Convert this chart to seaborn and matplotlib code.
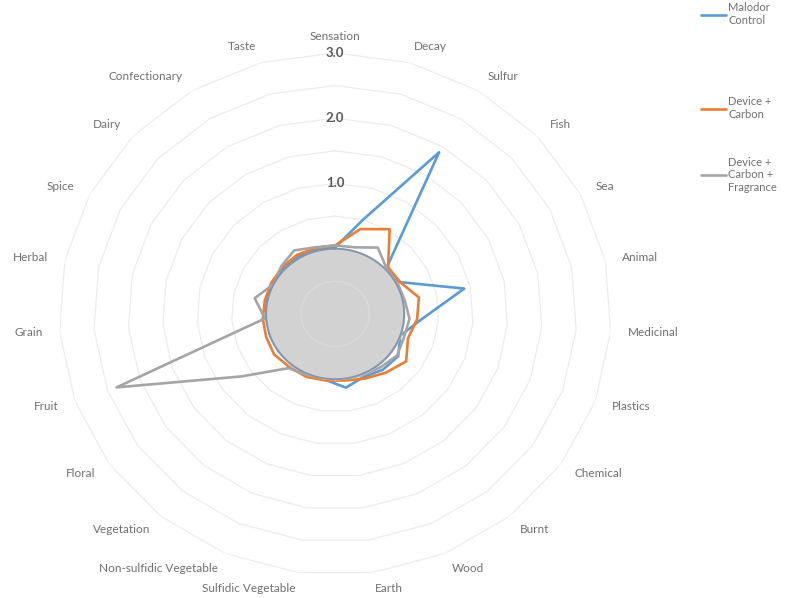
import numpy as np
import pandas as pd
import seaborn as sns
import matplotlib.pyplot as plt

# odour categories, clockwise from the top
categories = ["Sensation", "Decay", "Sulfur", "Fish", "Sea", "Animal", "Medicinal",
              "Plastics", "Chemical", "Burnt", "Wood", "Earth", "Sulfidic Vegetable",
              "Non-sulfidic Vegetable", "Vegetation", "Floral", "Fruit", "Grain",
              "Herbal", "Spice", "Dairy", "Confectionary", "Taste"]

malodor_control = [0.02, 0.50, 1.90, 0.01, 0.06, 0.91, 0.25, 0.00, 0.12, 0.10, 0.05, 0.14,
                   0.02, 0.00, 0.00, 0.00, 0.00, 0.00, 0.02, 0.02, 0.02, 0.03, 0.02]
device_carbon = [0.05, 0.35, 0.52, 0.05, 0.06, 0.24, 0.19, 0.12, 0.26, 0.16, 0.08, 0.03,
                 0.03, 0.05, 0.05, 0.08, 0.06, 0.05, 0.04, 0.04, 0.05, 0.06, 0.05]
device_carbon_fragrance = [0.05, 0.06, 0.19, 0.02, 0.02, 0.03, 0.08, 0.06, 0.10, 0.05, 0.02, 0.00,
                           0.00, 0.02, 0.07, 0.66, 2.36, 0.02, 0.19, 0.00, 0.07, 0.14, 0.06]

series_names = ["Malodor\nControl", "Device +\nCarbon", "Device +\nCarbon +\nFragrance"]
series_colors = ["#5B9BD5", "#ED7D31", "#A5A5A5"]

ring_levels = [-0.5, 0.0, 0.5, 1.0, 1.5, 2.0, 2.5, 3.0]
ring_labels = [1.0, 2.0, 3.0]

n = len(categories)
theta = [2 * np.pi * i / n for i in range(n)]
theta_closed = theta + [2 * np.pi]

rows = []
for name, vals in zip(series_names, [malodor_control, device_carbon, device_carbon_fragrance]):
    for t, v in zip(theta_closed, vals + vals[:1]):
        rows.append({"theta": t, "value": v, "series": name})
df = pd.DataFrame(rows)

sns.set_theme(style="white")
plt.rcParams['font.family'] = ['Lato', 'DejaVu Sans']

fig = plt.figure(figsize=(7.9, 5.98), dpi=100)
ax = fig.add_axes([0.0747, 0.0385, 0.699, 0.873], projection='polar')
ax.set_aspect('auto')
ax.set_theta_zero_location('N')
ax.set_theta_direction(-1)

# polygon gridlines
for lvl in ring_levels:
    ax.plot(theta_closed, [lvl] * len(theta_closed), color="#ececec", lw=0.9, zorder=1)

sns.lineplot(data=df, x="theta", y="value", hue="series", palette=series_colors,
             sort=False, estimator=None, lw=1.9, ax=ax, legend=False, zorder=2)
handles = ax.get_lines()[len(ring_levels):len(ring_levels) + 3]

# grey disc in the middle
circ = np.linspace(0, 2 * np.pi, 300)
ax.fill_between(circ, -1, 0, color="#d2d2d2", zorder=3)
ax.plot(circ, np.zeros_like(circ), color="#8495ad", lw=1.4, zorder=4)
ax.plot(theta_closed, [-0.5] * len(theta_closed), color="#dadada", lw=1.0, zorder=4)

ax.set_ylim(-1, 3)
ax.grid(False)
ax.set_xticks([])
ax.set_yticks([])
ax.spines['polar'].set_visible(False)
ax.set_xlabel("")
ax.set_ylabel("")

for lvl in ring_labels:
    ax.text(0, lvl, f"{lvl:.1f}", ha="center", va="center", fontsize=9.5,
            color="#595959", fontweight="bold", zorder=5)

for t, cat in zip(theta, categories):
    s = np.sin(t)
    ha = "left" if s > 0.05 else ("right" if s < -0.05 else "center")
    ax.text(t, 3.25, cat, ha=ha, va="center", fontsize=8.5, color="#707070")

# one legend box per entry, stacked on the right like the original
legend_tops = [1.0, 0.843, 0.742]
for h, name, top in zip(handles, series_names, legend_tops):
    leg = fig.legend([h], [name], loc="upper left", bbox_to_anchor=(0.885, top),
                     frameon=False, fontsize=8, handlelength=2.2,
                     handletextpad=0.2, borderaxespad=0.0, borderpad=0.2)
    for txt in leg.get_texts():
        txt.set_color("#707070")

fig.savefig("out.png", dpi=100)
